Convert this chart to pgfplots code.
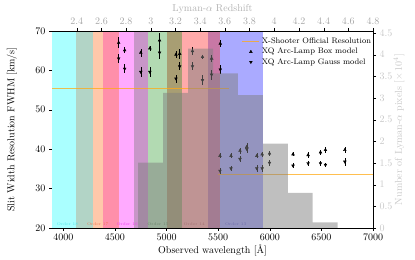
\documentclass[border=0pt]{standalone}
\usepackage{pgfplots}
\pgfplotsset{compat=1.18}
\definecolor{ord17}{RGB}{240,120,80}
\definecolor{uvborange}{RGB}{255,170,20}
\definecolor{rA}{RGB}{170,255,255}
\definecolor{rB}{RGB}{178,212,198}
\definecolor{rC}{RGB}{255,200,170}
\definecolor{rD}{RGB}{255,143,170}
\definecolor{rE}{RGB}{255,170,255}
\definecolor{rF}{RGB}{200,150,200}
\definecolor{rG}{RGB}{178,218,178}
\definecolor{rH}{RGB}{168,158,115}
\definecolor{rI}{RGB}{255,170,170}
\definecolor{rJ}{RGB}{200,120,165}
\definecolor{rK}{RGB}{170,170,255}
\begin{document}
\begin{tikzpicture}
\begin{axis}[
  scale only axis, width=321pt, height=197pt,
  xmin=3890, xmax=7000, ymin=20, ymax=70,
  xtick={4000,4500,5000,5500,6000,6500,7000},
  ytick={20,30,40,50,60,70},
  xtick pos=bottom, ytick pos=left,
  tick align=outside, major tick length=3pt,
  tick style={black},
  /pgf/number format/1000 sep={},
  xlabel={Observed wavelength [\AA]},
  ylabel={Slit Width Resolution FWHM [km/s]},
  xlabel style={at={(axis description cs:0.5,-0.065)}, anchor=north},
  ylabel style={at={(axis description cs:-0.125,0.5)}, anchor=center},
  legend style={draw=none, fill=none, font=\footnotesize, at={(1.01,0.985)}, anchor=north east, row sep=-1pt},
  legend cell align=left,
]
% order bands (opaque, overlaps precomputed)
\addplot[draw=none, fill=rA, forget plot] coordinates {(3800,20) (4124,20) (4124,70) (3800,70)} -- cycle;
\addplot[draw=none, fill=rB, forget plot] coordinates {(4124,20) (4292,20) (4292,70) (4124,70)} -- cycle;
\addplot[draw=none, fill=rC, forget plot] coordinates {(4292,20) (4380,20) (4380,70) (4292,70)} -- cycle;
\addplot[draw=none, fill=rD, forget plot] coordinates {(4380,20) (4543,20) (4543,70) (4380,70)} -- cycle;
\addplot[draw=none, fill=rE, forget plot] coordinates {(4543,20) (4682,20) (4682,70) (4543,70)} -- cycle;
\addplot[draw=none, fill=rF, forget plot] coordinates {(4682,20) (4822,20) (4822,70) (4682,70)} -- cycle;
\addplot[draw=none, fill=rG, forget plot] coordinates {(4822,20) (5007,20) (5007,70) (4822,70)} -- cycle;
\addplot[draw=none, fill=rH, forget plot] coordinates {(5007,20) (5146,20) (5146,70) (5007,70)} -- cycle;
\addplot[draw=none, fill=rI, forget plot] coordinates {(5146,20) (5397,20) (5397,70) (5146,70)} -- cycle;
\addplot[draw=none, fill=rJ, forget plot] coordinates {(5397,20) (5517,20) (5517,70) (5397,70)} -- cycle;
\addplot[draw=none, fill=rK, forget plot] coordinates {(5517,20) (5938,20) (5938,70) (5517,70)} -- cycle;
% resolution lines
\addplot[uvborange, opacity=0.75, line width=0.8pt] coordinates {(3800,55.5) (5600,55.5)};
\addlegendentry{X-Shooter Official Resolution}
\addplot[uvborange, opacity=0.75, line width=0.8pt, forget plot] coordinates {(5500,33.7) (7000,33.7)};
% box model
\addplot[black, only marks, mark=triangle*, mark size=1.6pt,
  error bars/.cd, y dir=both, y explicit, error bar style={black, line width=0.5pt}, error mark=none]
  coordinates {
  (4536,67.0) +- (0,1.4)
  (4594,65.1) +- (0,0.8)
  (4750,64.5) +- (0,1.0)
  (4838,65.6) +- (0,0.6)
  (4932,67.6) +- (0,1.8)
  (5091,64.0) +- (0,0.8)
  (5127,64.2) +- (0,1.2)
  (5251,64.9) +- (0,1.0)
  (5348,63.4) +- (0,0.5)
  (5436,63.0) +- (0,0.8)
  (5520,66.8) +- (0,0.8)
  (5517,38.3) +- (0,0.6)
  (5624,38.3) +- (0,0.6)
  (5711,39.6) +- (0,0.8)
  (5777,40.6) +- (0,0.9)
  (5874,38.3) +- (0,0.6)
  (5926,38.7) +- (0,0.6)
  (5997,38.9) +- (0,0.7)
  (6225,38.7) +- (0,0.5)
  (6371,38.5) +- (0,0.7)
  (6491,39.2) +- (0,0.6)
  (6539,39.8) +- (0,0.7)
  (6727,39.8) +- (0,0.7)
  };
\addlegendentry{XQ Arc-Lamp Box model}
% gauss model
\addplot[black, only marks, mark=triangle*, mark options={rotate=180}, mark size=1.6pt,
  error bars/.cd, y dir=both, y explicit, error bar style={black, line width=0.5pt}, error mark=none]
  coordinates {
  (4536,63.0) +- (0,1.2)
  (4594,60.4) +- (0,1.2)
  (4750,59.6) +- (0,1.2)
  (4838,59.6) +- (0,1.2)
  (4932,64.5) +- (0,1.5)
  (5091,57.9) +- (0,1.0)
  (5127,61.0) +- (0,1.0)
  (5251,61.0) +- (0,1.0)
  (5348,57.5) +- (0,1.2)
  (5436,58.9) +- (0,1.3)
  (5520,60.2) +- (0,1.2)
  (5517,34.5) +- (0,0.8)
  (5624,35.1) +- (0,0.6)
  (5711,37.5) +- (0,0.7)
  (5777,40.0) +- (0,1.0)
  (5874,35.1) +- (0,0.8)
  (5926,35.1) +- (0,0.8)
  (5997,36.5) +- (0,0.7)
  (6225,35.8) +- (0,0.6)
  (6371,36.4) +- (0,0.6)
  (6491,36.4) +- (0,0.7)
  (6539,36.0) +- (0,0.6)
  (6727,36.8) +- (0,1.0)
  };
\addlegendentry{XQ Arc-Lamp Gauss model}
% order labels
\node[anchor=south west, inner sep=0, text={rgb,255:red,80;green,230;blue,230}, font=\fontsize{4}{4}\selectfont] at (axis cs:3936,20.6) {Order 18};
\node[anchor=south west, inner sep=0, text=ord17, font=\fontsize{4}{4}\selectfont] at (axis cs:4228,20.6) {Order 17};
\node[anchor=south west, inner sep=0, text={rgb,255:red,240;green,60;blue,240}, font=\fontsize{4}{4}\selectfont] at (axis cs:4513,20.6) {Order 16};
\node[anchor=south west, inner sep=0, text={rgb,255:red,90;green,140;blue,90}, font=\fontsize{4}{4}\selectfont] at (axis cs:4812,20.6) {Order 15};
\node[anchor=south west, inner sep=0, text={rgb,255:red,200;green,100;blue,100}, font=\fontsize{4}{4}\selectfont] at (axis cs:5163,20.6) {Order 14};
\node[anchor=south west, inner sep=0, text={rgb,255:red,90;green,90;blue,220}, font=\fontsize{4}{4}\selectfont] at (axis cs:5565,20.6) {Order 13};
\end{axis}
% right axis: histogram
\begin{axis}[
  scale only axis, width=321pt, height=197pt,
  xmin=3890, xmax=7000, ymin=0, ymax=4.55,
  axis x line=none, axis y line*=right,
  tick align=outside, major tick length=3pt,
  tick style={black},
  ytick={0,0.5,1,1.5,2,2.5,3,3.5,4,4.5},
  yticklabel style={text=black!22},
  ylabel={Number of Lyman-$\alpha$ pixels [$\times\,10^4$]},
  ylabel style={text=black!22, at={(axis description cs:1.081,0.5)}, anchor=center},
]
\addplot[ybar interval, fill=gray, fill opacity=0.5, draw=none] coordinates {
  (4725,1.51) (4966,3.12) (5208,4.14) (5450,3.57) (5691,3.07) (5933,1.95) (6174,0.81) (6416,0.13) (6657,0)};
\end{axis}
% top axis: redshift
\begin{axis}[
  scale only axis, width=321pt, height=197pt,
  xmin=2.2, xmax=4.8, ymin=0, ymax=1,
  axis y line=none, axis x line*=top,
  tick align=outside, major tick length=3pt,
  tick style={black},
  xtick={2.4,2.6,2.8,3,3.2,3.4,3.6,3.8,4,4.2,4.4,4.6,4.8},
  xticklabel style={text=black!35},
  xlabel={Lyman-$\alpha$ Redshift},
  xlabel style={text=black!30, at={(axis description cs:0.5,1.112)}, anchor=center},
  clip=false,
]
\path[draw=none] (rel axis cs:-0.162,-0.147) rectangle (rel axis cs:1.1308,1.157);
\end{axis}
\end{tikzpicture}
\end{document}
